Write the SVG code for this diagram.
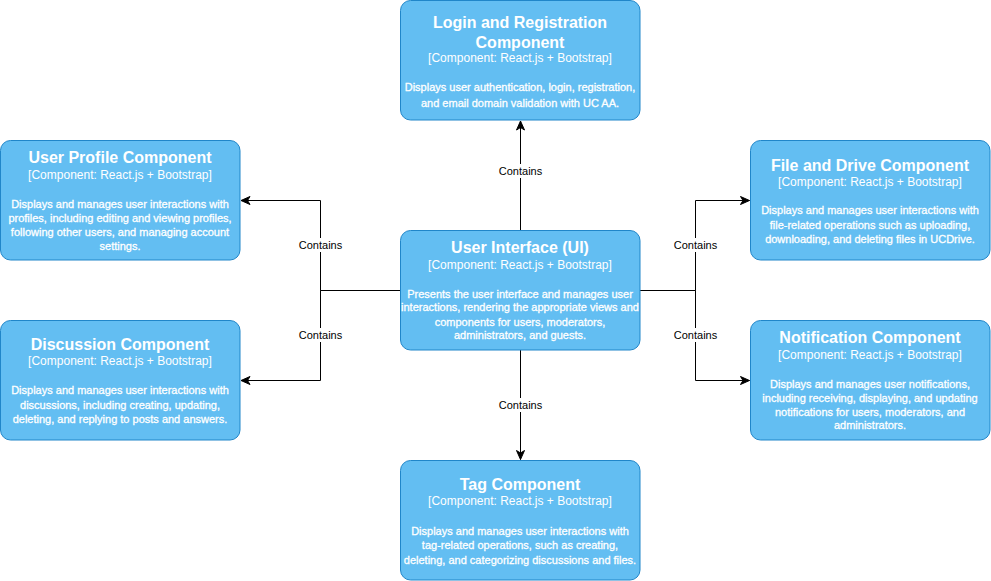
<svg xmlns="http://www.w3.org/2000/svg" width="991" height="581" viewBox="0 0 991 581">
<style>
.box{fill:#63BEF2;stroke:#2086C9;stroke-width:1}
.t{font-family:"Liberation Sans",Arial,sans-serif;fill:#ffffff;text-anchor:middle}
.h{font-size:16px;font-weight:bold}
.s{font-size:12px}
.d{font-size:11px;stroke:#ffffff;stroke-width:0.3}
.edge{fill:none;stroke:#000000;stroke-width:1}
.lbl{font-family:"Liberation Sans",Arial,sans-serif;font-size:11px;fill:#000000;text-anchor:middle}
.lbg{fill:#ffffff}
</style>
<defs>
<marker id="arr" markerUnits="userSpaceOnUse" markerWidth="12" markerHeight="10" refX="10" refY="5" orient="auto">
<path d="M1,1 L10,5 L1,9 L3.5,5 Z" fill="#000000" stroke="#000000" stroke-width="1"/>
</marker>
</defs>
<rect width="991" height="581" fill="#ffffff"/>
<g id="connectors">
<path class="edge" d="M520.5,230 L520.5,121" marker-end="url(#arr)"/>
<path class="edge" d="M520.5,350 L520.5,459.5" marker-end="url(#arr)"/>
<path class="edge" d="M400,290.5 L320.5,290.5 L320.5,200.5 L241,200.5" marker-end="url(#arr)"/>
<path class="edge" d="M400,290.5 L320.5,290.5 L320.5,380.5 L241,380.5" marker-end="url(#arr)"/>
<path class="edge" d="M640,290.5 L695.5,290.5 L695.5,200.5 L749.5,200.5" marker-end="url(#arr)"/>
<path class="edge" d="M640,290.5 L695.5,290.5 L695.5,380.5 L749.5,380.5" marker-end="url(#arr)"/>
<rect class="lbg" x="498" y="164" width="45" height="14"/>
<text class="lbl" x="520.5" y="175">Contains</text>
<rect class="lbg" x="498" y="398" width="45" height="14"/>
<text class="lbl" x="520.5" y="409">Contains</text>
<rect class="lbg" x="298" y="238" width="45" height="14"/>
<text class="lbl" x="320.5" y="249">Contains</text>
<rect class="lbg" x="298" y="328" width="45" height="14"/>
<text class="lbl" x="320.5" y="339">Contains</text>
<rect class="lbg" x="673" y="238" width="45" height="14"/>
<text class="lbl" x="695.5" y="249">Contains</text>
<rect class="lbg" x="673" y="328" width="45" height="14"/>
<text class="lbl" x="695.5" y="339">Contains</text>
</g>
<g id="login">
<rect class="box" x="400.5" y="0.5" width="239.5" height="119.5" rx="10" ry="10"/>
<text class="t h" x="520" y="28">Login and Registration</text>
<text class="t h" x="520" y="48">Component</text>
<text class="t s" x="520" y="61.5">[Component: React.js + Bootstrap]</text>
<text class="t d" x="520" y="91">Displays user authentication, login, registration,</text>
<text class="t d" x="520" y="107">and email domain validation with UC AA.</text>
</g>
<g id="profile">
<rect class="box" x="0.5" y="140.5" width="239.5" height="119.5" rx="10" ry="10"/>
<text class="t h" x="120" y="163">User Profile Component</text>
<text class="t s" x="120" y="178.5">[Component: React.js + Bootstrap]</text>
<text class="t d" x="120" y="208">Displays and manages user interactions with</text>
<text class="t d" x="120" y="222">profiles, including editing and viewing profiles,</text>
<text class="t d" x="120" y="236">following other users, and managing account</text>
<text class="t d" x="120" y="249.5">settings.</text>
</g>
<g id="file">
<rect class="box" x="750.5" y="140.5" width="239.5" height="119.5" rx="10" ry="10"/>
<text class="t h" x="870" y="170.5">File and Drive Component</text>
<text class="t s" x="870" y="186">[Component: React.js + Bootstrap]</text>
<text class="t d" x="870" y="214">Displays and manages user interactions with</text>
<text class="t d" x="870" y="228.5">file-related operations such as uploading,</text>
<text class="t d" x="870" y="242.5">downloading, and deleting files in UCDrive.</text>
</g>
<g id="ui">
<rect class="box" x="400.5" y="230.5" width="239.5" height="119.5" rx="10" ry="10"/>
<text class="t h" x="520" y="253">User Interface (UI)</text>
<text class="t s" x="520" y="268.5">[Component: React.js + Bootstrap]</text>
<text class="t d" x="520" y="297.5">Presents the user interface and manages user</text>
<text class="t d" x="520" y="311">interactions, rendering the appropriate views and</text>
<text class="t d" x="520" y="325.5">components for users, moderators,</text>
<text class="t d" x="520" y="339">administrators, and guests.</text>
</g>
<g id="discussion">
<rect class="box" x="0.5" y="320.5" width="239.5" height="119.5" rx="10" ry="10"/>
<text class="t h" x="120" y="350">Discussion Component</text>
<text class="t s" x="120" y="365">[Component: React.js + Bootstrap]</text>
<text class="t d" x="120" y="394">Displays and manages user interactions with</text>
<text class="t d" x="120" y="408.5">discussions, including creating, updating,</text>
<text class="t d" x="120" y="423">deleting, and replying to posts and answers.</text>
</g>
<g id="notification">
<rect class="box" x="750.5" y="320.5" width="239.5" height="119.5" rx="10" ry="10"/>
<text class="t h" x="870" y="343">Notification Component</text>
<text class="t s" x="870" y="358.5">[Component: React.js + Bootstrap]</text>
<text class="t d" x="870" y="387.5">Displays and manages user notifications,</text>
<text class="t d" x="870" y="401.5">including receiving, displaying, and updating</text>
<text class="t d" x="870" y="415.5">notifications for users, moderators, and</text>
<text class="t d" x="870" y="429">administrators.</text>
</g>
<g id="tag">
<rect class="box" x="400.5" y="460.5" width="239.5" height="119.5" rx="10" ry="10"/>
<text class="t h" x="520" y="490">Tag Component</text>
<text class="t s" x="520" y="505">[Component: React.js + Bootstrap]</text>
<text class="t d" x="520" y="535">Displays and manages user interactions with</text>
<text class="t d" x="520" y="549">tag-related operations, such as creating,</text>
<text class="t d" x="520" y="563.5">deleting, and categorizing discussions and files.</text>
</g>
</svg>
